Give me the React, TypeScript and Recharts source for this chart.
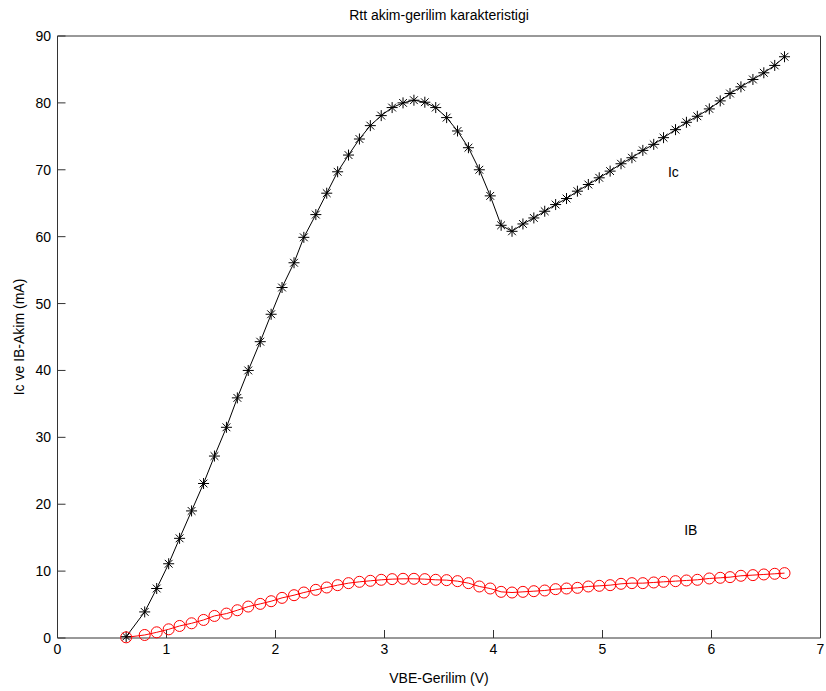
import { Line, LineChart, ReferenceDot, XAxis, YAxis } from 'recharts';

const vbe = [
  0.63, 0.8, 0.91, 1.02, 1.12, 1.23, 1.34, 1.44, 1.55, 1.65, 1.75, 1.86, 1.96, 2.06, 2.17,
  2.26, 2.37, 2.47, 2.57, 2.67, 2.77, 2.87, 2.97, 3.07, 3.17, 3.27, 3.37, 3.47, 3.57, 3.67,
  3.77, 3.87, 3.97, 4.07, 4.17, 4.27, 4.37, 4.47, 4.57, 4.67, 4.77, 4.87, 4.97, 5.07, 5.17,
  5.27, 5.37, 5.47, 5.56, 5.67, 5.77, 5.87, 5.98, 6.08, 6.17, 6.27, 6.38, 6.48, 6.58, 6.67,
];

const ic = [
  0.2, 3.9, 7.4, 11.1, 14.9, 19.0, 23.1, 27.2, 31.5, 35.9, 40.0, 44.3, 48.4, 52.4, 56.1,
  59.9, 63.3, 66.5, 69.7, 72.2, 74.6, 76.6, 78.1, 79.3, 80.0, 80.4, 80.1, 79.3, 77.8, 75.8,
  73.3, 70.0, 66.1, 61.7, 60.8, 61.9, 62.8, 63.8, 64.8, 65.7, 66.8, 67.8, 68.8, 69.8, 70.9,
  71.8, 72.9, 73.8, 74.8, 76.0, 77.1, 78.0, 79.1, 80.3, 81.4, 82.4, 83.5, 84.5, 85.6, 86.9,
];

const ib = [
  0.1, 0.45, 0.85, 1.3, 1.8, 2.2, 2.7, 3.3, 3.65, 4.15, 4.7, 5.1, 5.5, 6.0, 6.4,
  6.8, 7.2, 7.55, 7.9, 8.2, 8.4, 8.55, 8.7, 8.8, 8.85, 8.85, 8.8, 8.7, 8.65, 8.5,
  8.2, 7.7, 7.4, 6.9, 6.8, 6.9, 7.0, 7.1, 7.3, 7.4, 7.5, 7.7, 7.8, 7.9, 8.1,
  8.2, 8.2, 8.3, 8.4, 8.5, 8.6, 8.7, 8.9, 9.0, 9.1, 9.3, 9.4, 9.5, 9.6, 9.7,
];

const xTicks = [0, 1, 2, 3, 4, 5, 6, 7];
const yTicks = [0, 10, 20, 30, 40, 50, 60, 70, 80, 90];

const chartTitle = 'Rtt akim-gerilim karakteristigi';
const xLabel = 'VBE-Gerilim (V)';
const yLabel = 'Ic ve IB-Akim (mA)';

const curveNames = ['Ic', 'IB'];
const curveNameX = [5.65, 5.81];
const curveNameY = [69.6, 16.1];

const data = vbe.map((v, i) => ({ vbe: v, ic: ic[i], ib: ib[i] }));

const FONT = '"Liberation Sans", Arial, sans-serif';
const AXIS = '#333';
const tickStyle = { fill: '#000', fontSize: 14, fontFamily: FONT };

// MATLAB-style '*' marker
function Asterisk(props: any) {
  const { cx, cy } = props;
  if (cx == null || cy == null) return null;
  const r = 5.5;
  const d = r * 0.707;
  return (
    <g stroke="#000" strokeWidth={1}>
      <line x1={cx - r} y1={cy} x2={cx + r} y2={cy} />
      <line x1={cx} y1={cy - r} x2={cx} y2={cy + r} />
      <line x1={cx - d} y1={cy - d} x2={cx + d} y2={cy + d} />
      <line x1={cx - d} y1={cy + d} x2={cx + d} y2={cy - d} />
    </g>
  );
}

function TitleLabel({ viewBox }: any) {
  return (
    <text x={viewBox.x + viewBox.width / 2} y={20} textAnchor="middle" fontSize={14} fontFamily={FONT} fill="#000">
      {chartTitle}
    </text>
  );
}

function XTitle({ viewBox }: any) {
  return (
    <text x={viewBox.x + viewBox.width / 2} y={683} textAnchor="middle" fontSize={14} fontFamily={FONT} fill="#000">
      {xLabel}
    </text>
  );
}

function YTitle({ viewBox }: any) {
  const cy = viewBox.y + viewBox.height / 2;
  return (
    <text transform={`translate(24, ${cy}) rotate(-90)`} textAnchor="middle" fontSize={14} fontFamily={FONT} fill="#000">
      {yLabel}
    </text>
  );
}

export default function App() {
  return (
    <div style={{ position: 'absolute', left: 0, top: 0, width: 826, height: 691, background: '#fff' }}>
      <LineChart width={826} height={691} data={data} margin={{ top: 0, right: 0, bottom: 0, left: 0 }}>
        <XAxis
          dataKey="vbe"
          type="number"
          domain={[0, 7]}
          ticks={xTicks}
          height={53}
          tickSize={-8}
          tickMargin={14}
          stroke={AXIS}
          tick={tickStyle}
          label={<XTitle />}
        />
        <XAxis
          xAxisId="top"
          orientation="top"
          dataKey="vbe"
          type="number"
          domain={[0, 7]}
          ticks={xTicks}
          height={36}
          tickSize={-8}
          tick={false}
          stroke={AXIS}
          label={<TitleLabel />}
        />
        <YAxis
          type="number"
          domain={[0, 90]}
          ticks={yTicks}
          width={57.5}
          tickSize={-8}
          tickMargin={14.5}
          stroke={AXIS}
          tick={tickStyle}
          label={<YTitle />}
        />
        <YAxis
          yAxisId="right"
          orientation="right"
          type="number"
          domain={[0, 90]}
          ticks={yTicks}
          width={5.5}
          tickSize={-8}
          tick={false}
          stroke={AXIS}
        />
        <Line
          type="linear"
          dataKey="ic"
          stroke="#000"
          strokeWidth={1}
          dot={<Asterisk />}
          activeDot={false}
          isAnimationActive={false}
        />
        <Line
          type="linear"
          dataKey="ib"
          stroke="#ff0000"
          strokeWidth={1}
          dot={{ r: 5.5, stroke: '#ff0000', strokeWidth: 1, fill: 'none' }}
          activeDot={false}
          isAnimationActive={false}
        />
        {curveNames.map((name, i) => (
          <ReferenceDot
            key={name}
            x={curveNameX[i]}
            y={curveNameY[i]}
            r={0}
            fill="none"
            stroke="none"
            label={{ value: name, position: 'center', fill: '#000', fontSize: 14, fontFamily: FONT }}
          />
        ))}
      </LineChart>
    </div>
  );
}
